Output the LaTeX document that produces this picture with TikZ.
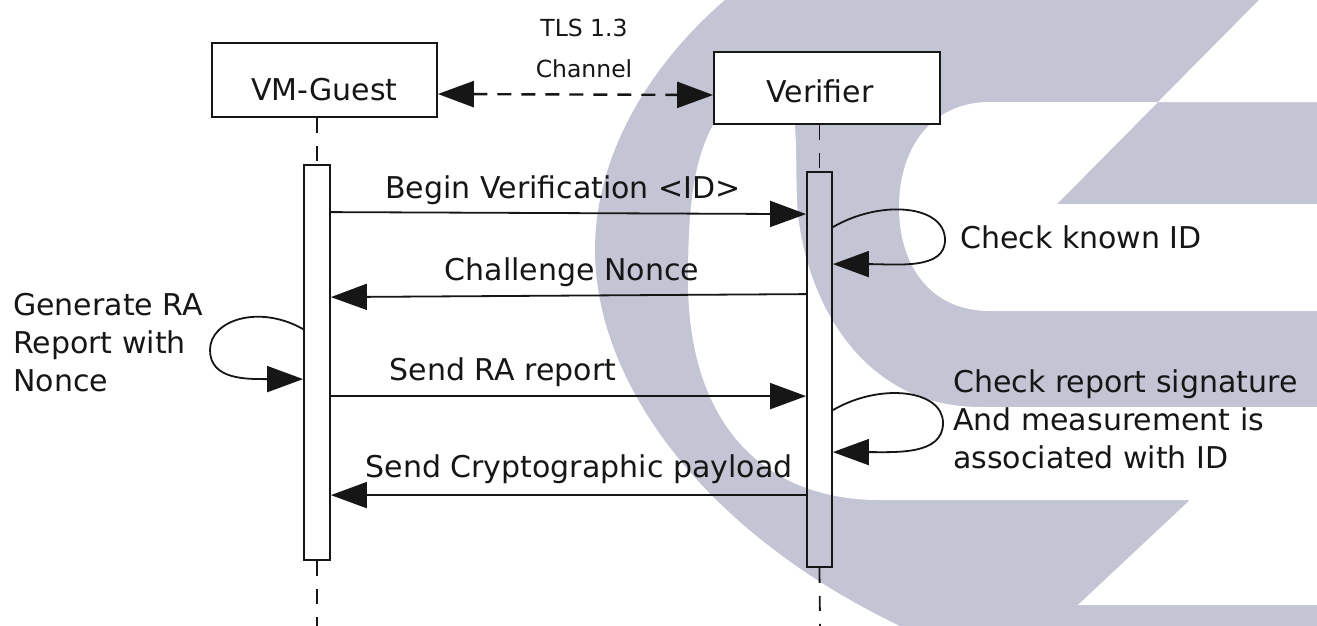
\documentclass[tikz,border=0pt]{standalone}
\usepackage{fontspec}
\setmainfont{DejaVu Sans}
\usetikzlibrary{arrows.meta}
\definecolor{logo}{RGB}{195,197,212}
\definecolor{ink}{RGB}{22,22,22}
\begin{document}
\begin{tikzpicture}[x=1pt,y=-1pt,
  lbl/.style={font=\fontsize{30}{38}\selectfont, inner sep=0pt, text=ink},
  small/.style={font=\fontsize{23.5}{41}\selectfont, inner sep=0pt, text=ink},
  actor/.style={draw=ink, line width=1.8pt, fill=white, inner sep=0pt, font=\fontsize{30}{36}\selectfont, text=ink},
  actbar/.style={draw=ink, line width=1.8pt, inner sep=0pt, minimum height=395pt},
  msg/.style={draw=ink, line width=1.8pt, -{Triangle[length=36pt,width=26pt]}},
  tls/.style={draw=ink, line width=2.4pt, dash pattern=on 14pt off 10pt, {Triangle[length=36pt,width=26pt]}-{Triangle[length=36pt,width=26pt]}},
  life/.style={draw=ink, line width=1.8pt, dash pattern=on 15pt off 13pt}
]
\useasboundingbox (0,0) rectangle (1317,626);

% background logo
\fill[logo] (725,0) .. controls (655,60) and (595,150) .. (595,250) .. controls (595,380) and (700,530) .. (900,626) -- (1317,626) -- (1317,0) -- cycle;
\fill[white] (1259,0) -- (1317,0) -- (1317,102) -- (1158,102) -- cycle;
\fill[white] (990,102) -- (1158,102) -- (1057,204) -- (1317,204) -- (1317,311) -- (990,311) .. controls (930,311) and (899,265) .. (899,207) .. controls (899,150) and (930,102) .. (990,102) -- cycle;
\fill[white] (780,70) .. controls (700,100) and (688,170) .. (688,280) .. controls (688,420) and (760,500) .. (880,500) -- (1190,500) -- (1078,605) -- (1317,605) -- (1317,407) -- (980,407) .. controls (850,407) and (800,280) .. (797,200) .. controls (795,150) and (800,110) .. (780,70) -- cycle;

% actors
\node[actor, minimum width=225pt, minimum height=74pt, text height=40pt, text depth=0pt] (vm) at (324.5,80) {VM-Guest};
\node[actor, minimum width=226pt, minimum height=72pt, text height=28pt, text depth=0pt] (vb) at (827,88) {\hspace*{-14pt}Verifier};

% activation bars
\node[actbar, minimum width=26pt] (vmbar) at (317,362.5) {};
\node[actbar, minimum width=25pt] (vbar) at (819.5,369.5) {};

% lifelines
\coordinate (vmend) at (317,626);
\coordinate (vbend) at (820,626);
\draw[life] (vmbar.north |- vm.south) -- (vmbar.north);
\draw[life] (vbar.north |- vb.south) -- (vbar.north);
\draw[life] (vmbar.south) -- (vmend);
\draw[life] (vbar.south) -- (vbend);

% TLS channel
\draw[tls] ([yshift=-14pt]vm.east) -- ([yshift=-7pt]vb.west);
\node[small, align=center, anchor=north] (tlslbl) at (584,19) {TLS 1.3\\Channel};

% messages
\draw[msg] ([yshift=-48pt]vmbar.north east) -- ([yshift=-43pt]vbar.north west);
\node[lbl, anchor=base] (m1) at (563,198) {Begin Verification <ID>};

\draw[msg] ([yshift=-123pt]vbar.north west) -- ([yshift=-133pt]vmbar.north east);
\node[lbl, anchor=base] (m2) at (572,280) {Challenge Nonce};

\draw[msg] ([yshift=-232pt]vmbar.north east) -- ([yshift=-225pt]vbar.north west);
\node[lbl, anchor=base] (m3) at (503,380) {Send RA report};

\draw[msg] ([yshift=-324pt]vbar.north west) -- ([yshift=-331pt]vmbar.north east);
\node[lbl, anchor=base] (m4) at (579,477) {Send Cryptographic payload};

% self loops
\draw[msg] ([yshift=-56pt]vbar.north east) .. controls +(48,-28) and +(0,-35) .. (945,240) .. controls +(0,30) and +(64,0) .. ([yshift=-93pt]vbar.north east);
\node[lbl, anchor=base west] (c1) at (960,248) {Check known ID};

\draw[msg] ([yshift=-239pt]vbar.north east) .. controls +(48,-28) and +(0,-33) .. (943,423) .. controls +(0,32) and +(64,0) .. ([yshift=-281pt]vbar.north east);
\node[lbl, anchor=north west, align=left] (c2) at (953,370) {Check report signature\\And measurement is\\associated with ID};

\draw[msg] ([yshift=-165pt]vmbar.north west) .. controls +(-44,-25) and +(0,-30) .. (210,350) .. controls +(0,30) and +(-56,0) .. ([yshift=-215pt]vmbar.north west);
\node[lbl, anchor=north west, align=left] (g1) at (13,293) {Generate RA\\Report with\\Nonce};
\end{tikzpicture}
\end{document}
